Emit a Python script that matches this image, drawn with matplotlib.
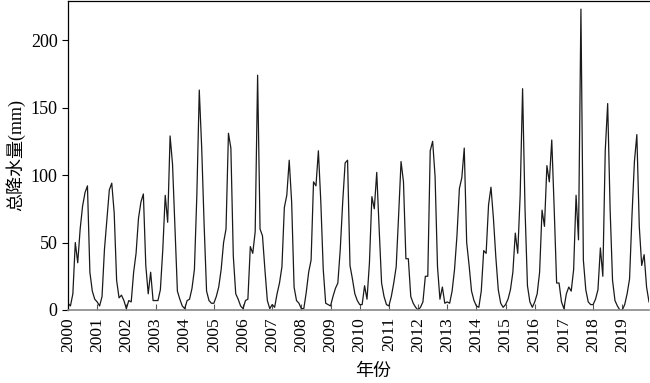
import numpy as np
import matplotlib
matplotlib.use("Agg")
import matplotlib.pyplot as plt

plt.rcParams['font.family'] = ['Liberation Serif', 'Noto Sans CJK SC']

# monthly total precipitation (mm), Jan 2000 - Dec 2019
years = list(range(2000, 2020))
rain_2000s = [
    5, 3, 12, 50, 35, 60, 77, 87, 92, 28, 14, 8,          # 2000
    6, 3, 10, 45, 67, 89, 94, 72, 22, 9, 11, 7,           # 2001
    1, 7, 6, 28, 42, 68, 80, 86, 33, 12, 28, 7,           # 2002
    7, 7, 15, 45, 85, 65, 129, 108, 62, 14, 8, 3,         # 2003
    1, 7, 8, 16, 30, 85, 163, 120, 63, 14, 7, 5,          # 2004
    5, 10, 17, 30, 50, 60, 131, 120, 40, 12, 8, 3,        # 2005
    1, 7, 8, 47, 42, 58, 174, 60, 55, 30, 7, 1,           # 2006
    4, 2, 12, 20, 32, 76, 85, 111, 80, 17, 7, 5,          # 2007
    1, 1, 13, 28, 37, 95, 92, 118, 80, 30, 5, 4,          # 2008
    3, 10, 16, 20, 45, 80, 109, 111, 33, 23, 12, 7,       # 2009
]
rain_2010s = [
    4, 4, 18, 8, 35, 84, 75, 102, 60, 20, 10, 4,          # 2010
    3, 10, 20, 32, 70, 110, 95, 38, 38, 10, 5, 2,         # 2011
    0, 2, 6, 25, 25, 118, 125, 99, 32, 8, 17, 5,          # 2012
    6, 5, 14, 30, 55, 90, 98, 120, 50, 33, 14, 7,         # 2013
    3, 2, 14, 44, 42, 78, 91, 68, 39, 15, 5, 2,           # 2014
    4, 8, 15, 28, 57, 42, 85, 164, 75, 18, 6, 2,          # 2015
    6, 12, 28, 74, 62, 107, 95, 126, 75, 20, 20, 6,       # 2016
    1, 12, 17, 14, 30, 85, 52, 223, 37, 15, 6, 4,         # 2017
    4, 8, 15, 46, 25, 118, 153, 75, 22, 7, 3, 0,          # 2018
    0, 4, 12, 23, 70, 110, 130, 62, 33, 41, 17, 6,        # 2019
]

rain = np.array(rain_2000s + rain_2010s, dtype=float)
t = years[0] + np.arange(len(rain)) / 12.0

fig = plt.figure(figsize=(6.5, 3.83), dpi=100)
ax = fig.add_axes([68 / 650, 73 / 383, 581 / 650, 309 / 383])

ax.plot(t, rain, color='#1a1a1a', lw=0.9)

ax.set_xlim(t[0], t[-1])
ax.set_ylim(0, 229)
ax.set_xticks(years)
ax.set_xticklabels([str(y) for y in years], rotation=90, fontsize=12.5)
ax.set_yticks([0, 50, 100, 150, 200])
ax.tick_params(axis='y', labelsize=13, direction='out', length=4, width=0.8)
ax.tick_params(axis='x', direction='in', length=4, width=0.8, color='#555555', pad=5)

ax.spines['right'].set_visible(False)
ax.spines['bottom'].set_color('#888888')
ax.spines['bottom'].set_linewidth(1.2)
ax.spines['left'].set_linewidth(0.9)
ax.spines['top'].set_linewidth(0.9)

ax.set_ylabel('总降水量(mm)', fontsize=13, labelpad=4)
ax.set_xlabel('年份', fontsize=13, labelpad=2)
ax.xaxis.set_label_coords(0.525, -0.17)

fig.savefig('out.png', dpi=100)
